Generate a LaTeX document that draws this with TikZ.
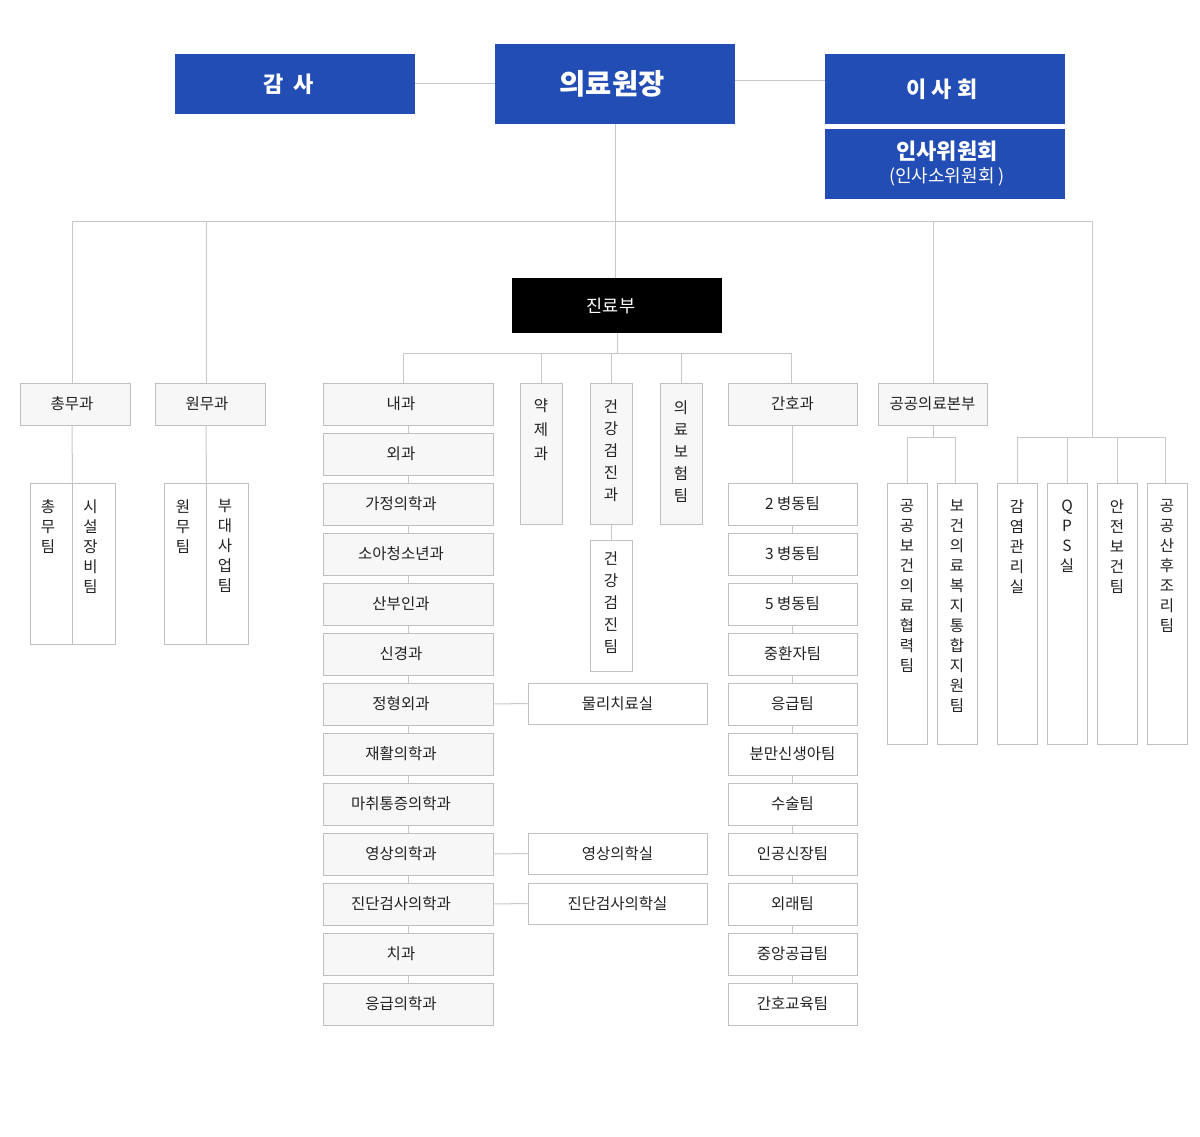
\documentclass[tikz,border=0pt]{standalone}
\usepackage{fontspec}
\setmainfont{Noto Sans CJK KR}
\definecolor{hblue}{HTML}{214DB5}
\definecolor{lncol}{HTML}{C8C8C8}
\definecolor{bdcol}{HTML}{BFBFBF}
\definecolor{gfill}{HTML}{F7F7F7}
\definecolor{txt}{HTML}{222222}
\newcommand{\lsh}{\hspace*{-12pt}}
\newcommand{\ssh}{\hspace*{-6pt}}
\begin{document}
\begin{tikzpicture}[x=1pt,y=-1pt,
 base/.style={draw=bdcol, line width=1pt, inner sep=0pt, text=txt, font=\fontsize{15.5}{17}\selectfont},
 gbox/.style={base, fill=gfill},
 wbox/.style={base, fill=white},
 hbox/.style={fill=hblue, text=white, inner sep=0pt},
 vt/.style={anchor=north, align=center, inner sep=0pt, text=txt, font=\fontsize{15.5}{22}\selectfont},
 vty/.style={anchor=north, align=center, inner sep=0pt, text=txt, font=\fontsize{15.5}{24}\selectfont},
 vts/.style={anchor=north, align=center, inner sep=0pt, text=txt, font=\fontsize{15.5}{20}\selectfont},
 conn/.style={draw=lncol, line width=1pt}]
\path[use as bounding box, fill=white] (0,0) rectangle (1200,1137);

% top heads
\node[hbox, minimum width=240, minimum height=60, font=\fontsize{22}{24}\selectfont\bfseries] (gamsa) at (295,84) {\lsh 감\hspace{0.45em}사};
\node[hbox, minimum width=240, minimum height=80, font=\fontsize{28.5}{30}\selectfont\bfseries] (chief) at (615,84) {\ssh 의료원장};
\node[hbox, minimum width=240, minimum height=70, font=\fontsize{22}{24}\selectfont\bfseries] (board) at (945,89) {\ssh 이 사 회};
\node[hbox, minimum width=240, minimum height=70] (insa) at (945,164) {};
\node[text=white, inner sep=0pt, font=\fontsize{22}{24}\selectfont\bfseries] (insat1) at (947,151) {인사위원회};
\node[text=white, inner sep=0pt, font=\fontsize{18}{20}\selectfont] (insat2) at (947,177) {(인사소위원회 )};
\node[fill=black, text=white, minimum width=210, minimum height=55, inner sep=0pt, font=\fontsize{17.5}{20}\selectfont] (jinryo) at (617,305.5) {\lsh 진료부};

\draw[conn] (gamsa.east) -- (chief.west);
\draw[conn] (chief.east |- 0,81) -- (board.west |- 0,81);

% main bus
\coordinate (busL) at (72,221);
\coordinate (busW) at (206,221);
\coordinate (busP) at (933,221);
\coordinate (busR) at (1092,221);
\draw[conn] (busL) -- (busR);
\draw[conn] (chief.south) -- (chief.south |- jinryo.north);

% admin
\node[gbox, minimum width=110, minimum height=42] (chongmu) at (75,404) {\ssh 총무과};
\node[gbox, minimum width=110, minimum height=42] (wonmu) at (210,404) {\ssh 원무과};
\draw[conn] (busL) -- (busL |- chongmu.north);
\draw[conn] (busW) -- (busW |- wonmu.north);

\node[wbox, minimum width=42, minimum height=161] (cmA) at (51,563.5) {};
\node[wbox, minimum width=43, minimum height=161] (cmB) at (93.5,563.5) {};
\node[vts] (cmAt) at ([xshift=-3, yshift=-17]cmA.north) {총\\무\\팀};
\node[vts] (cmBt) at ([xshift=-3, yshift=-17]cmB.north) {시\\설\\장\\비\\팀};
\draw[conn] (busL |- chongmu.south) -- (cmA.north east);

\node[wbox, minimum width=42, minimum height=161] (wmA) at (185,563.5) {};
\node[wbox, minimum width=42, minimum height=161] (wmB) at (227,563.5) {};
\node[vts] (wmAt) at ([xshift=-2, yshift=-17]wmA.north) {원\\무\\팀};
\node[vts] (wmBt) at ([xshift=-2, yshift=-17]wmB.north) {부\\대\\사\\업\\팀};
\draw[conn] (busW |- wonmu.south) -- (wmA.north east);

% jinryo sub bus
\coordinate (sL) at (403,353);
\coordinate (sR) at (791,353);
\draw[conn] (jinryo.south) -- (jinryo.south |- sL);
\draw[conn] (sL) -- (sR);

% main column
\foreach \t [count=\i] in {내과,외과,가정의학과,소아청소년과,산부인과,신경과,정형외과,재활의학과,마취통증의학과,영상의학과,진단검사의학과,치과,응급의학과}{
  \node[gbox, minimum width=170, minimum height=42] (m\i) at (408,{404+50*(\i-1)}) {\hspace*{-14pt}\t};
}
\foreach \i in {1,...,12}{
  \pgfmathtruncatemacro\j{\i+1}
  \draw[conn] (m\i.south) -- (m\j.north);
}
\draw[conn] (sL) -- (sL |- m1.north);

% vertical small depts
\node[gbox, minimum width=42, minimum height=141] (yak) at (541,453.5) {};
\node[vty] (yakt) at ([yshift=-16]yak.north) {약\\제\\과};
\node[gbox, minimum width=42, minimum height=141] (geon) at (611,453.5) {};
\node[vt] (geont) at ([yshift=-17]geon.north) {건\\강\\검\\진\\과};
\node[gbox, minimum width=42, minimum height=141] (uibo) at (681,453.5) {};
\node[vt] (uibot) at ([yshift=-18]uibo.north) {의\\료\\보\\험\\팀};
\draw[conn] (sL -| yak.north) -- (yak.north);
\draw[conn] (sL -| geon.north) -- (geon.north);
\draw[conn] (sL -| uibo.north) -- (uibo.north);

\node[wbox, minimum width=42, minimum height=131] (geonteam) at (611,605.5) {};
\node[vt] (geonteamt) at ([yshift=-12]geonteam.north) {건\\강\\검\\진\\팀};
\draw[conn] (geon.south) -- (geonteam.north);

% side rooms
\node[wbox, minimum width=179, minimum height=41] (mul) at (617.5,703.5) {물리치료실};
\node[wbox, minimum width=179, minimum height=41] (young) at (617.5,853.5) {영상의학실};
\node[wbox, minimum width=179, minimum height=41] (jindan) at (617.5,903.5) {진단검사의학실};
\draw[conn] (m7.east) -- (mul.west);
\draw[conn] (m10.east) -- (young.west);
\draw[conn] (m11.east) -- (jindan.west);

% nursing
\node[gbox, minimum width=129, minimum height=42] (n1) at (792.5,404) {간호과};
\draw[conn] (sR) -- (sR |- n1.north);
\foreach \t [count=\i from 2] in {2 병동팀,3 병동팀,5 병동팀,중환자팀,응급팀,분만신생아팀,수술팀,인공신장팀,외래팀,중앙공급팀,간호교육팀}{
  \node[wbox, minimum width=129, minimum height=42] (n\i) at (792.5,{504+50*(\i-2)}) {\t};
}
\draw[conn] (n1.south) -- (n2.north);
\foreach \i in {2,...,11}{
  \pgfmathtruncatemacro\j{\i+1}
  \draw[conn] (n\i.south) -- (n\j.north);
}

% public health
\node[gbox, minimum width=109, minimum height=42] (gong) at (932.5,404) {공공의료본부};
\draw[conn] (busP) -- (busP |- gong.north);
\coordinate (pL) at (907,437);
\coordinate (pR) at (955,437);
\draw[conn] (busP |- gong.south) -- (busP |- pL);
\draw[conn] (pL) -- (pR);
\node[wbox, minimum width=40, minimum height=261] (p1) at (907,613.5) {};
\node[vts] (p1t) at ([yshift=-17]p1.north) {공\\공\\보\\건\\의\\료\\협\\력\\팀};
\node[wbox, minimum width=40, minimum height=261] (p2) at (957,613.5) {};
\node[vts] (p2t) at ([yshift=-17]p2.north) {보\\건\\의\\료\\복\\지\\통\\합\\지\\원\\팀};
\draw[conn] (pL) -- (pL |- p1.north);
\draw[conn] (pR) -- (pR |- p2.north);

% right group
\coordinate (rL) at (1017,437);
\coordinate (rR) at (1165,437);
\draw[conn] (busR) -- (busR |- rL);
\draw[conn] (rL) -- (rR);
\node[wbox, minimum width=40, minimum height=261] (c1) at (1017,613.5) {};
\node[vts] (c1t) at ([yshift=-17]c1.north) {감\\염\\관\\리\\실};
\node[wbox, minimum width=40, minimum height=261] (c2) at (1067,613.5) {};
\node[vts] (c2t) at ([yshift=-17]c2.north) {Q\\P\\S\\실};
\node[wbox, minimum width=40, minimum height=261] (c3) at (1117,613.5) {};
\node[vts] (c3t) at ([yshift=-17]c3.north) {안\\전\\보\\건\\팀};
\node[wbox, minimum width=40, minimum height=261] (c4) at (1167,613.5) {};
\node[vts] (c4t) at ([yshift=-17]c4.north) {공\\공\\산\\후\\조\\리\\팀};
\draw[conn] (rL) -- (c1.north);
\draw[conn] (rL -| c2.north) -- (c2.north);
\draw[conn] (rL -| c3.north) -- (c3.north);
\draw[conn] (rR) -- (rR |- c4.north);
\end{tikzpicture}
\end{document}
